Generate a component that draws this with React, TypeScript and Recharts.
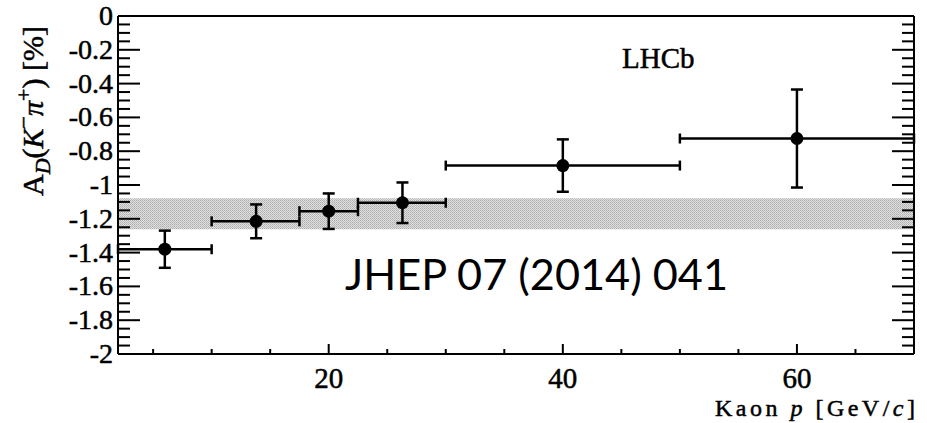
import { ComposedChart, Scatter, ErrorBar, XAxis, YAxis, ReferenceArea, Label } from "recharts";

// kaon momentum bins [GeV/c]
const kaonP = [6, 13.8, 20, 26.3, 40, 60];
const binLow = [2, 10, 17.5, 22.5, 30, 50];
const binHigh = [10, 17.5, 22.5, 30, 50, 70];
// A_D(K- pi+) [%]
const asym = [-1.38, -1.215, -1.155, -1.105, -0.885, -0.725];
const asymErr = [0.11, 0.1, 0.105, 0.12, 0.155, 0.29];
// averaged value band
const bandLow = -1.262;
const bandHigh = -1.079;

const xTicks = [5, 10, 15, 20, 25, 30, 35, 40, 45, 50, 55, 60, 65, 70];
const xLabels = [20, 40, 60];
const yTicks = [
  0, -0.05, -0.1, -0.15, -0.2, -0.25, -0.3, -0.35, -0.4, -0.45, -0.5, -0.55, -0.6, -0.65,
  -0.7, -0.75, -0.8, -0.85, -0.9, -0.95, -1, -1.05, -1.1, -1.15, -1.2, -1.25, -1.3, -1.35,
  -1.4, -1.45, -1.5, -1.55, -1.6, -1.65, -1.7, -1.75, -1.8, -1.85, -1.9, -1.95, -2,
];
const yLabels = [0, -0.2, -0.4, -0.6, -0.8, -1, -1.2, -1.4, -1.6, -1.8, -2];

const points = kaonP.map((p, i) => ({
  p,
  a: asym[i],
  errP: [p - binLow[i], binHigh[i] - p],
  errA: asymErr[i],
}));

const SERIF = "'Liberation Serif', 'Times New Roman', serif";
// slight outline so the text looks as heavy as the rasterised original
const heavy = { stroke: "#000", strokeWidth: 0.5 };
const isMajorY = (v: number) => yLabels.some((l) => Math.abs(l - v) < 1e-6);

function BottomTick({ x, y, payload }: any) {
  const major = xLabels.includes(payload.value);
  return (
    <g>
      <line x1={x} x2={x} y1={y} y2={y - (major ? 10 : 5)} stroke="#000" strokeWidth={2} />
      {major ? (
        <text x={x} y={y + 34} textAnchor="middle" fontFamily={SERIF} fontSize={29} fill="#000" {...heavy}>
          {payload.value}
        </text>
      ) : null}
    </g>
  );
}

function TopTick({ x, y, payload }: any) {
  const major = xLabels.includes(payload.value);
  return <line x1={x} x2={x} y1={y} y2={y + (major ? 10 : 5)} stroke="#000" strokeWidth={2} />;
}

function LeftTick({ x, y, payload }: any) {
  const major = isMajorY(payload.value);
  return (
    <g>
      <line x1={x} x2={x + (major ? 22 : 12)} y1={y} y2={y} stroke="#000" strokeWidth={2} />
      {major ? (
        <text x={x - 5} y={y + 9} textAnchor="end" fontFamily={SERIF} fontSize={28} fill="#000" {...heavy}>
          {String(payload.value)}
        </text>
      ) : null}
    </g>
  );
}

function RightTick({ x, y, payload }: any) {
  const major = isMajorY(payload.value);
  return <line x1={x} x2={x - (major ? 22 : 12)} y1={y} y2={y} stroke="#000" strokeWidth={2} />;
}

function Dot({ cx, cy }: any) {
  return <circle cx={cx} cy={cy} r={6.5} fill="#000" />;
}

function XTitle({ viewBox }: any) {
  const right = viewBox.x + viewBox.width;
  return (
    <text
      x={right + 1}
      y={viewBox.y + 62}
      textAnchor="end"
      fontFamily={SERIF}
      fontSize={24}
      fill="#000"
      textLength={200}
      lengthAdjust="spacing"
      {...heavy}
    >
      Kaon <tspan fontStyle="italic">p</tspan> [GeV/<tspan fontStyle="italic">c</tspan>]
    </text>
  );
}

function YTitle({ viewBox }: any) {
  const bottom = viewBox.y + 180;
  return (
    <text
      transform={`translate(43,${bottom}) rotate(-90)`}
      textAnchor="start"
      fontFamily={SERIF}
      fontSize={30}
      fill="#000"
      {...heavy}
    >
      A
      <tspan fontStyle="italic" fontSize={22} dy={7}>D</tspan>
      <tspan dy={-7}>(</tspan>
      <tspan fontStyle="italic">K</tspan>
      <tspan fontSize={22} dy={-12}>−</tspan>
      <tspan fontStyle="italic" dy={12}>π</tspan>
      <tspan fontSize={22} dy={-12}>+</tspan>
      <tspan dy={12}>) [%]</tspan>
    </text>
  );
}

export default function App() {
  return (
    <div style={{ position: "absolute", left: 0, top: 0, width: 927, height: 423 }}>
      <ComposedChart
        width={927}
        height={423}
        data={points}
        margin={{ top: 15, right: 12, bottom: 68, left: 117 }}
      >
        <defs>
          <pattern id="bandFill" width={2} height={2} patternUnits="userSpaceOnUse">
            <rect width={2} height={2} fill="#e0e0e0" />
            <rect width={1} height={1} fill="#acacac" />
            <rect x={1} y={1} width={1} height={1} fill="#bcbcbc" />
          </pattern>
        </defs>
        <XAxis
          xAxisId="b"
          dataKey="p"
          type="number"
          orientation="bottom"
          domain={[2, 70]}
          allowDataOverflow
          ticks={xTicks}
          interval={0}
          height={1}
          tickSize={0}
          tickMargin={0}
          tickLine={false}
          axisLine={{ stroke: "#000", strokeWidth: 2 }}
          tick={<BottomTick />}
        >
          <Label content={<XTitle />} />
        </XAxis>
        <XAxis
          xAxisId="t"
          type="number"
          orientation="top"
          domain={[2, 70]}
          allowDataOverflow
          ticks={xTicks}
          interval={0}
          height={1}
          tickSize={0}
          tickMargin={0}
          tickLine={false}
          axisLine={{ stroke: "#000", strokeWidth: 2 }}
          tick={<TopTick />}
        />
        <YAxis
          yAxisId="l"
          dataKey="a"
          type="number"
          orientation="left"
          domain={[-2, 0]}
          allowDataOverflow
          ticks={yTicks}
          interval={0}
          width={1}
          tickSize={0}
          tickMargin={0}
          tickLine={false}
          axisLine={{ stroke: "#000", strokeWidth: 2 }}
          tick={<LeftTick />}
        >
          <Label content={<YTitle />} />
        </YAxis>
        <YAxis
          yAxisId="r"
          type="number"
          orientation="right"
          domain={[-2, 0]}
          allowDataOverflow
          ticks={yTicks}
          interval={0}
          width={1}
          tickSize={0}
          tickMargin={0}
          tickLine={false}
          axisLine={{ stroke: "#000", strokeWidth: 2 }}
          tick={<RightTick />}
        />
        <ReferenceArea
          xAxisId="b"
          yAxisId="l"
          x1={2}
          x2={70}
          y1={bandLow}
          y2={bandHigh}
          fill="url(#bandFill)"
          fillOpacity={1}
          stroke="none"
          ifOverflow="hidden"
        />
        <Scatter
          xAxisId="b"
          yAxisId="l"
          dataKey="a"
          shape={<Dot />}
          isAnimationActive={false}
        >
          <ErrorBar dataKey="errP" direction="x" width={5} stroke="#000" strokeWidth={2.5} isAnimationActive={false} />
          <ErrorBar dataKey="errA" direction="y" width={6} stroke="#000" strokeWidth={2.5} isAnimationActive={false} />
        </Scatter>
      </ComposedChart>
      <svg
        width={927}
        height={423}
        style={{ position: "absolute", left: 0, top: 0, pointerEvents: "none" }}
      >
        <text x={622} y={68} fontFamily={SERIF} fontSize={29} fill="#000" {...heavy}>
          LHCb
        </text>
        <text
          x={345}
          y={290}
          fontFamily="Lato, 'Open Sans', sans-serif"
          fontSize={42}
          fill="#000"
          textLength={383}
          lengthAdjust="spacingAndGlyphs"
        >
          JHEP 07 (2014) 041
        </text>
      </svg>
    </div>
  );
}
